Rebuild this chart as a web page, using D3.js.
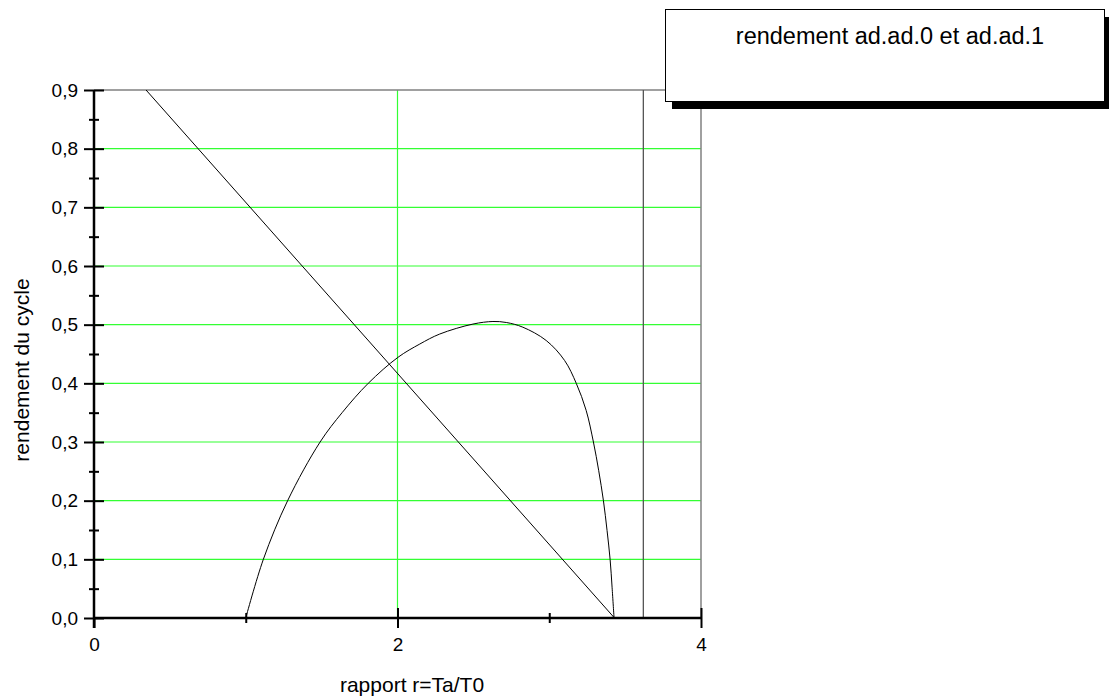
<!DOCTYPE html>
<html>
<head>
<meta charset="utf-8">
<script src="https://cdn.jsdelivr.net/npm/d3@7"></script>
<style>
  html, body { margin: 0; padding: 0; background: #fff; }
  svg { display: block; font-family: "Liberation Sans", Arial, sans-serif; }
</style>
</head>
<body>
<svg id="chart" width="1109" height="699"></svg>
<script>
// Cycle efficiency versus temperature ratio r = Ta/T0
const curveX = [1.000, 1.116, 1.276, 1.490, 1.635, 1.807, 2.004, 2.147, 2.278, 2.497, 2.629, 2.717, 2.826, 2.980, 3.101, 3.178, 3.243, 3.291, 3.326, 3.357, 3.381, 3.401, 3.414, 3.427];
const curveY = [0.000, 0.100, 0.200, 0.300, 0.350, 0.400, 0.4445, 0.467, 0.484, 0.501, 0.5054, 0.5037, 0.4957, 0.473, 0.439, 0.400, 0.354, 0.300, 0.251, 0.200, 0.149, 0.100, 0.0525, 0.000];

// Straight efficiency line (clipped at the top of the frame)
const lineX = [0.343, 3.43];
const lineY = [0.90, 0.00];

// Vertical limit line
const limitX = 3.62;

const xMajor = [0, 2, 4];
const xMinor = [1, 3];
const yMajor = [0, 0.1, 0.2, 0.3, 0.4, 0.5, 0.6, 0.7, 0.8, 0.9];
const yMinor = [0.05, 0.15, 0.25, 0.35, 0.45, 0.55, 0.65, 0.75, 0.85];
const xGrid = [2];
const yGrid = [0.1, 0.2, 0.3, 0.4, 0.5, 0.6, 0.7, 0.8];

const xTitle = "rapport r=Ta/T0";
const yTitle = "rendement du cycle";
const legendTitle = "rendement ad.ad.0 et ad.ad.1";

const svg = d3.select("#chart");
const x = d3.scaleLinear().domain([0, 4]).range([94, 701]);
const y = d3.scaleLinear().domain([0, 0.9]).range([618, 90]);

const fmt = v => d3.format(".1f")(v).replace(".", ",");

// grid
svg.append("g").selectAll("line").data(yGrid).join("line")
  .attr("x1", x(0)).attr("x2", x(4))
  .attr("y1", d => y(d)).attr("y2", d => y(d))
  .attr("stroke", "#33ff33").attr("stroke-width", 1.2);
svg.append("g").selectAll("line").data(xGrid).join("line")
  .attr("x1", d => x(d)).attr("x2", d => x(d))
  .attr("y1", y(0)).attr("y2", y(0.9))
  .attr("stroke", "#33ff33").attr("stroke-width", 1.2);

// frame top and right
svg.append("line").attr("x1", x(0)).attr("x2", x(4)).attr("y1", y(0.9)).attr("y2", y(0.9))
  .attr("stroke", "#808080").attr("stroke-width", 1.5);
svg.append("line").attr("x1", x(4)).attr("x2", x(4)).attr("y1", y(0.9)).attr("y2", y(0))
  .attr("stroke", "#808080").attr("stroke-width", 1.5);

// limit line
svg.append("line").attr("x1", x(limitX)).attr("x2", x(limitX)).attr("y1", y(0.9)).attr("y2", y(0))
  .attr("stroke", "#555").attr("stroke-width", 1.3);

// data
const straight = d3.line().x(d => x(d[0])).y(d => y(d[1]));
const smooth = d3.line().x(d => x(d[0])).y(d => y(d[1])).curve(d3.curveCatmullRom.alpha(0.5));
svg.append("path").datum(d3.zip(lineX, lineY))
  .attr("d", straight).attr("fill", "none").attr("stroke", "#000").attr("stroke-width", 1);
svg.append("path").datum(d3.zip(curveX, curveY))
  .attr("d", smooth).attr("fill", "none").attr("stroke", "#000").attr("stroke-width", 1);

// axes: ticks on both sides of the axis lines
function styleAxis(g) {
  g.select(".domain").remove();
  g.selectAll(".tick line").attr("stroke", "#000").attr("stroke-width", 2);
  g.selectAll("text").attr("font-size", 19).attr("fill", "#000")
    .attr("font-family", "Liberation Sans, Arial, sans-serif");
}
const xg = svg.append("g").attr("transform", `translate(0,${y(0)})`);
xg.append("g").call(d3.axisBottom(x).tickValues(xMajor).tickSize(10).tickPadding(10).tickFormat(d3.format("d"))).call(styleAxis);
xg.append("g").call(d3.axisTop(x).tickValues(xMajor.slice(1)).tickSize(10).tickFormat("")).call(styleAxis);
xg.append("g").call(d3.axisBottom(x).tickValues(xMinor).tickSize(5).tickFormat("")).call(styleAxis);
xg.append("g").call(d3.axisTop(x).tickValues(xMinor).tickSize(5).tickFormat("")).call(styleAxis);

const yg = svg.append("g").attr("transform", `translate(${x(0)},0)`);
yg.append("g").call(d3.axisLeft(y).tickValues(yMajor).tickSize(10).tickPadding(6).tickFormat(fmt)).call(styleAxis);
yg.append("g").call(d3.axisRight(y).tickValues(yMajor).tickSize(10).tickFormat("")).call(styleAxis);
yg.append("g").call(d3.axisLeft(y).tickValues(yMinor).tickSize(5).tickFormat("")).call(styleAxis);
yg.append("g").call(d3.axisRight(y).tickValues(yMinor).tickSize(5).tickFormat("")).call(styleAxis);

// axis lines
svg.append("line").attr("x1", x(0)).attr("x2", x(4)).attr("y1", y(0)).attr("y2", y(0))
  .attr("stroke", "#000").attr("stroke-width", 2.5);
svg.append("line").attr("x1", x(0)).attr("x2", x(0)).attr("y1", y(0.9)).attr("y2", y(0) + 10)
  .attr("stroke", "#000").attr("stroke-width", 2.5);

// titles
svg.append("text").attr("x", 412).attr("y", 692).attr("text-anchor", "middle")
  .attr("font-size", 21).text(xTitle);
svg.append("text").attr("transform", "translate(29,370) rotate(-90)").attr("text-anchor", "middle")
  .attr("font-size", 21).text(yTitle);

// legend box with drop shadow
const lg = svg.append("g");
lg.append("rect").attr("x", 672).attr("y", 17).attr("width", 439).attr("height", 92).attr("fill", "#000");
lg.append("rect").attr("x", 665.5).attr("y", 9.5).attr("width", 439).attr("height", 92)
  .attr("fill", "#fff").attr("stroke", "#000").attr("stroke-width", 1);
lg.append("text").attr("x", 890).attr("y", 44).attr("text-anchor", "middle")
  .attr("font-size", 23.5).text(legendTitle);
</script>
</body>
</html>
